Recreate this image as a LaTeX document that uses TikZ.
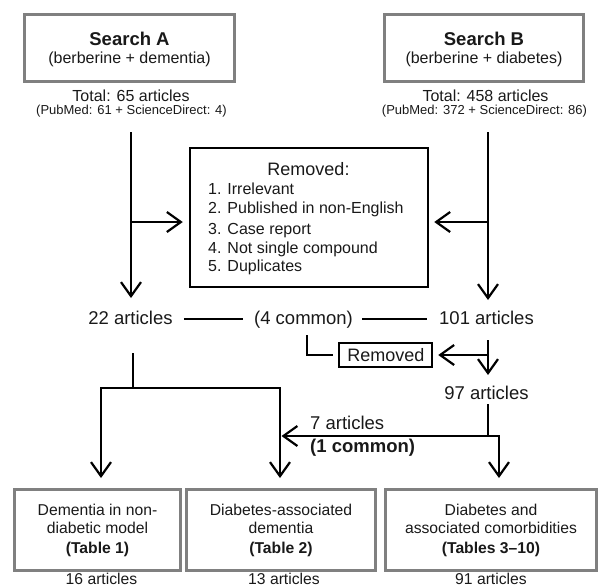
\documentclass[tikz,border=0pt]{standalone}
\usepackage{fontspec}
\setmainfont{Liberation Sans}
\usetikzlibrary{arrows.meta}
\definecolor{boxgray}{RGB}{128,128,128}
\definecolor{txt}{RGB}{25,25,25}
\begin{document}
\begin{tikzpicture}[x=1pt,y=-1pt,
  every node/.style={text=txt},
  gbox/.style={draw=boxgray, line width=3pt, inner sep=0pt},
  bbox/.style={draw=black, line width=2.5pt, inner sep=0pt},
  ln/.style={draw=black, line width=2.2pt},
  arr/.style={draw=black, line width=2.2pt, -{Straight Barb[length=14pt,width=20pt]}},
  tbig/.style={font=\fontsize{18.5}{22}\selectfont, inner sep=0pt, anchor=base},
  tbold/.style={font=\bfseries\fontsize{18.5}{22}\selectfont, inner sep=0pt, anchor=base},
  tmid/.style={font=\fontsize{16}{19}\selectfont, inner sep=0pt, anchor=base},
  tbot/.style={font=\fontsize{15.7}{19}\selectfont, inner sep=0pt, anchor=base},
  tbotb/.style={font=\bfseries\fontsize{15.7}{19}\selectfont, inner sep=0pt, anchor=base},
  tsmall/.style={font=\fontsize{13}{16}\selectfont, inner sep=0pt, anchor=base},
]
\useasboundingbox (0,0) rectangle (600,587);

% --- Search boxes
\node[gbox, minimum width=210pt, minimum height=67pt] (sa) at (129.5,48) {};
\node[tbold] (saT) at (129.5,45) {Search A};
\node[tmid] (saS) at (129.5,63) {(berberine + dementia)};
\node[gbox, minimum width=199pt, minimum height=67pt] (sb) at (484,48) {};
\node[tbold] (sbT) at (484,45) {Search B};
\node[tmid] (sbS) at (484,63) {(berberine + diabetes)};

\node[tmid] (taT) at (131,101) {Total: 65 articles};
\node[tsmall] (taP) at (131.5,114.5) {(PubMed: 61 + ScienceDirect: 4)};
\node[tmid] (tbT) at (485.5,101) {Total: 458 articles};
\node[tsmall] (tbP) at (484.5,114.5) {(PubMed: 372 + ScienceDirect: 86)};

% --- Removed box
\node[bbox, minimum width=238pt, minimum height=139pt] (rem) at (309,217.5) {};
\node[tbig, font=\fontsize{18}{22}\selectfont] (remT) at (308.5,175) {Removed:};
\node[tmid, anchor=base west] (r1) at (208,194) {1. Irrelevant};
\node[tmid, anchor=base west] (r2) at (208,213) {2. Published in non-English};
\node[tmid, anchor=base west] (r3) at (208,234) {3. Case report};
\node[tmid, anchor=base west] (r4) at (208,253) {4. Not single compound};
\node[tmid, anchor=base west] (r5) at (208,271.5) {5. Duplicates};

% --- middle counts
\node[tbig] (n22) at (130.5,324) {22 articles};
\node[tbig] (n4c) at (303.5,324) {(4 common)};
\node[tbig] (n101) at (486.5,324) {101 articles};
\node[bbox, minimum width=93pt, minimum height=24pt] (rs) at (385.5,355) {};
\node[tbig, font=\fontsize{18}{22}\selectfont] (rsT) at (386,361) {Removed};
\node[tbig] (n97) at (486.5,399) {97 articles};
\node[tbig, anchor=base west] (n7) at (310,429) {7 articles};
\node[tbold, anchor=base west] (n1c) at (310,452) {(1 common)};

% --- bottom boxes
\node[gbox, minimum width=166pt, minimum height=81pt] (bx1) at (97.5,530) {};
\node[tbot] (bx1a) at (97.5,515) {Dementia in non-};
\node[tbot] (bx1b) at (97.5,533.5) {diabetic model};
\node[tbotb] (bx1c) at (97.5,553) {(Table 1)};
\node[gbox, minimum width=189pt, minimum height=81pt] (bx2) at (281,530) {};
\node[tbot] (bx2a) at (281,515) {Diabetes-associated};
\node[tbot] (bx2b) at (281,533.5) {dementia};
\node[tbotb] (bx2c) at (281,553) {(Table 2)};
\node[gbox, minimum width=211pt, minimum height=81pt] (bx3) at (491,530) {};
\node[tbot] (bx3a) at (491,515) {Diabetes and};
\node[tbot] (bx3b) at (491,533.5) {associated comorbidities};
\node[tbotb] (bx3c) at (491,553) {(Tables 3–10)};
\node[tbot] (c16) at (101.5,584) {16 articles};
\node[tbot] (c13) at (284,584) {13 articles};
\node[tbot] (c91) at (491,584) {91 articles};

% --- connector points
\coordinate (a0) at (131,132);
\coordinate (a1) at (131,222);
\coordinate (a2) at (131,298);
\coordinate (b0) at (488,132);
\coordinate (b1) at (488,222);
\coordinate (b2) at (488,300);
\coordinate (b3) at (488,340);
\coordinate (b4) at (488,375);
\coordinate (c0) at (307,335);
\coordinate (d0) at (488,404);
\coordinate (d1) at (488,436);
\coordinate (d2) at (499,436);
\coordinate (e1) at (281.5,436);
\coordinate (f0) at (133,353);
\coordinate (f1) at (133,388);
\coordinate (f2) at (101,388);
\coordinate (f3) at (280,388);

% --- connectors
\draw[arr] (a0) -- (a2);
\draw[arr, shorten >=6pt] (a1) -- (a1 -| rem.west);
\draw[arr] (b0) -- (b2);
\draw[arr, shorten >=5pt] (b1) -- (b1 -| rem.east);

\draw[ln, shorten <=11pt, shorten >=11pt] (n22.east |- 0,319) -- (n4c.west |- 0,319);
\draw[ln, shorten <=9pt, shorten >=12pt] (n4c.east |- 0,319) -- (n101.west |- 0,319);

\draw[ln, shorten >=5pt] (c0) |- (rs.west);
\draw[arr] (b3) -- (b4);
\draw[arr, shorten >=5pt] (b3 |- rs.east) -- (rs.east);

\draw[arr, shorten >=10pt] (d0) -- (d1) -- (d2) -- (d2 |- bx3.north);
\draw[arr] (d2) -- (e1);

\draw[ln] (f0) -- (f1);
\draw[arr, shorten >=10pt] (f1) -- (f2) -- (f2 |- bx1.north);
\draw[arr, shorten >=10pt] (f1) -- (f3) -- (f3 |- bx2.north);
\end{tikzpicture}
\end{document}
